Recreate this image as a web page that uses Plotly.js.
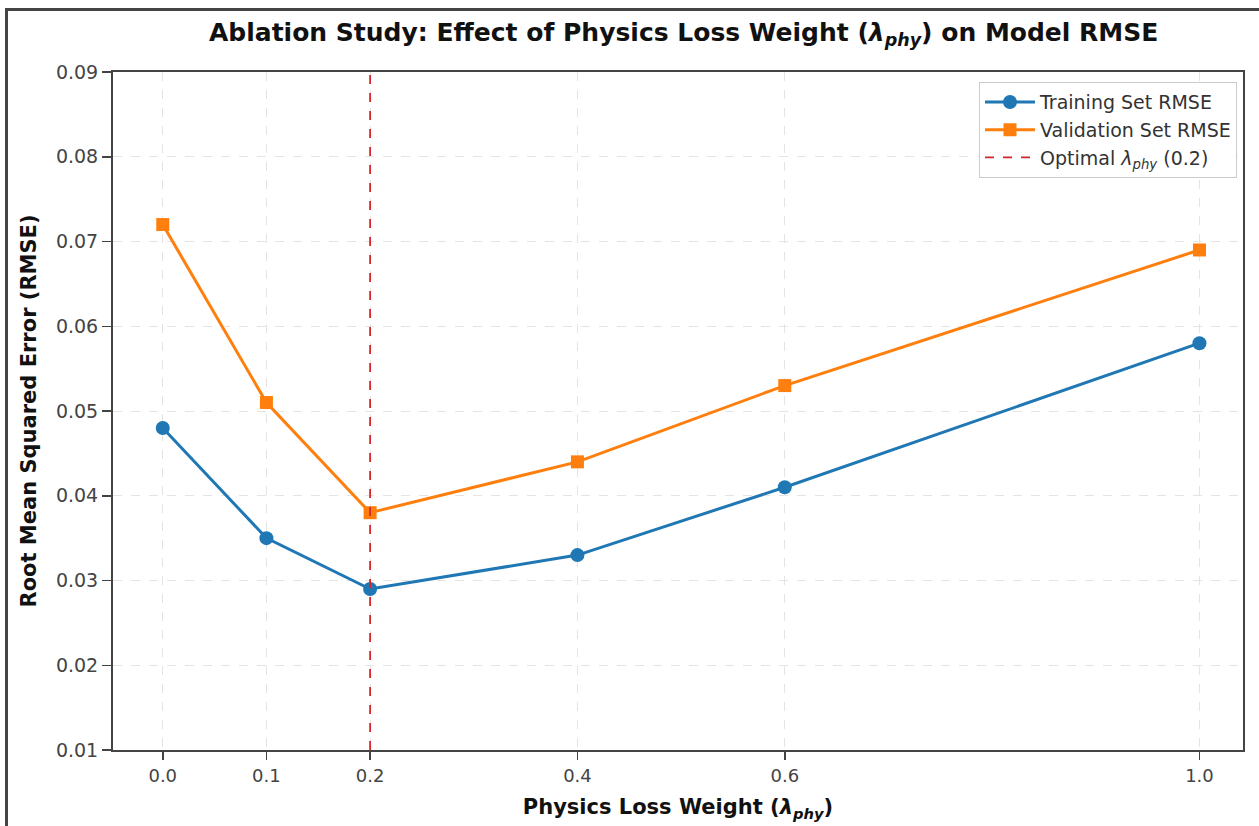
<!DOCTYPE html>
<html>
<head>
<meta charset="utf-8">
<script src="https://cdn.plot.ly/plotly-3.0.1.min.js"></script>
<style>
  html, body { margin: 0; padding: 0; background: #fff; }
  #chart { width: 1259px; height: 826px; }
  #frame { position: absolute; left: 5px; top: 8px; width: 1300px; height: 900px;
           border-top: 3px solid #444; border-left: 3px solid #444; pointer-events: none; }
</style>
</head>
<body>
<div id="chart"></div>
<div id="frame"></div>
<script>
const lambdas = [0.0, 0.1, 0.2, 0.4, 0.6, 1.0];
const trainRMSE = [0.048, 0.035, 0.029, 0.033, 0.041, 0.058];
const valRMSE = [0.072, 0.051, 0.038, 0.044, 0.053, 0.069];
const optimalLambda = 0.2;
const yTicks = [0.01, 0.02, 0.03, 0.04, 0.05, 0.06, 0.07, 0.08, 0.09];
const yTickText = ['0.01', '0.02', '0.03', '0.04', '0.05', '0.06', '0.07', '0.08', '0.09'];
const xTickText = ['0.0', '0.1', '0.2', '0.4', '0.6', '1.0'];
const yRange = [0.01, 0.09];

const lam = '<i>λ</i><sub><i>phy</i></sub>';

const traces = [
  {
    x: lambdas, y: trainRMSE, mode: 'lines+markers', name: 'Training Set RMSE',
    line: {color: '#1f77b4', width: 3},
    marker: {symbol: 'circle', size: 14, color: '#1f77b4'}
  },
  {
    x: lambdas, y: valRMSE, mode: 'lines+markers', name: 'Validation Set RMSE',
    line: {color: '#ff7f0e', width: 3},
    marker: {symbol: 'square', size: 13, color: '#ff7f0e'}
  },
  {
    x: [optimalLambda, optimalLambda], y: yRange, mode: 'lines',
    name: 'Optimal ' + lam + ' (0.2)',
    line: {color: '#d62728', width: 1.8, dash: 'dash'}
  }
];

const layout = {
  width: 1259, height: 826,
  margin: {l: 113, r: 16, t: 72, b: 76},
  paper_bgcolor: '#fff', plot_bgcolor: '#fff',
  font: {family: 'DejaVu Sans, sans-serif', color: '#333'},
  title: {
    text: '<b>Ablation Study: Effect of Physics Loss Weight (' + lam + ') on Model RMSE</b>',
    font: {size: 25, color: '#111', family: 'DejaVu Sans, sans-serif'},
    x: 0.543, xanchor: 'center', y: 0.961, yanchor: 'middle'
  },
  xaxis: {
    range: [-0.048, 1.042],
    tickvals: lambdas, ticktext: xTickText,
    tickfont: {size: 18, color: '#444'},
    ticks: 'outside', ticklen: 8, tickcolor: '#444', tickwidth: 1.5,
    showline: true, linecolor: '#444', linewidth: 2, mirror: true,
    showgrid: true, gridcolor: '#e4e4e4', griddash: 'dash', gridwidth: 1,
    zeroline: false,
    title: {text: '<b>Physics Loss Weight (' + lam + ')</b>', font: {size: 21, color: '#111'}, standoff: 15}
  },
  yaxis: {
    range: yRange,
    tickvals: yTicks, ticktext: yTickText,
    tickfont: {size: 19, color: '#444'},
    ticks: 'outside', ticklen: 9, tickcolor: '#444', tickwidth: 1.5,
    showline: true, linecolor: '#444', linewidth: 2, mirror: true,
    showgrid: true, gridcolor: '#e4e4e4', griddash: 'dash', gridwidth: 1,
    zeroline: false,
    title: {text: '<b>Root Mean Squared Error (RMSE)</b>', font: {size: 21, color: '#111'}, standoff: 14}
  },
  legend: {
    x: 0.9947, xanchor: 'right', y: 0.985, yanchor: 'top',
    bgcolor: 'rgba(255,255,255,0.9)', bordercolor: '#ccc', borderwidth: 1,
    font: {size: 19, color: '#333'},
    itemwidth: 50,
    tracegroupgap: 4
  },
  showlegend: true
};

Plotly.newPlot('chart', traces, layout, {displayModeBar: false, staticPlot: true});
</script>
</body>
</html>
